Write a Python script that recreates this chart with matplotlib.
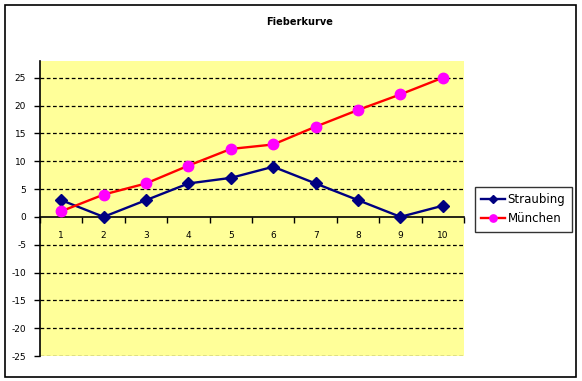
import matplotlib
matplotlib.use("Agg")
import matplotlib.pyplot as plt
from matplotlib.patches import Rectangle

# Daten
tage = [1, 2, 3, 4, 5, 6, 7, 8, 9, 10]
straubing = [3, 0, 3, 6, 7, 9, 6, 3, 0, 2]
muenchen = [1, 4, 6, 9.2, 12.2, 13, 16.2, 19.2, 22, 25]
y_ticks = [-25, -20, -15, -10, -5, 0, 5, 10, 15, 20, 25]

plt.rcParams['font.family'] = ['DejaVu Sans']

fig = plt.figure(figsize=(5.82, 3.81), dpi=100)
fig.patch.set_facecolor('white')
ax = fig.add_axes([40 / 582, 25 / 381, 424 / 582, 295 / 381])
ax.set_facecolor('#FFFF99')

# Rahmen um das ganze Diagramm
fig.patches.append(Rectangle((5 / 582, 4 / 381), 571 / 582, 372 / 381,
                             transform=fig.transFigure, fill=False,
                             edgecolor='black', linewidth=1.2))

ax.set_xlim(0.5, 10.5)
ax.set_ylim(-25, 28)

# Gitternetz
for v in y_ticks:
    if v != 0:
        ax.axhline(v, color='black', linestyle=(0, (3, 2)), linewidth=0.9, zorder=1)

ax.plot(tage, straubing, color='#000080', marker='D', markersize=6,
        linewidth=1.7, label='Straubing', zorder=3)
ax.plot(tage, muenchen, color='#FF0000', marker='o', markersize=7.5,
        markerfacecolor='#FF00FF', markeredgecolor='#FF00FF',
        linewidth=1.7, label='München', zorder=3)

for s in ['top', 'right']:
    ax.spines[s].set_visible(False)
ax.spines['bottom'].set_position(('data', 0))
ax.spines['bottom'].set_linewidth(1.2)
ax.spines['left'].set_linewidth(1.2)

ax.set_yticks(y_ticks)
ax.set_yticklabels([str(v) for v in y_ticks])
ax.tick_params(axis='y', direction='out', length=4, width=1, labelsize=6.5, pad=6)

ax.set_xticks([t - 0.5 for t in tage] + [10.5])
ax.set_xticklabels([])
ax.set_xticks(tage, minor=True)
ax.set_xticklabels([str(t) for t in tage], minor=True)
ax.tick_params(axis='x', which='major', direction='out', length=4, width=1)
ax.tick_params(axis='x', which='minor', length=0, labelsize=6.5, pad=10)

fig.text(300 / 582, 1 - 22 / 381, 'Fieberkurve', ha='center', va='center',
         fontsize=7, fontweight='bold')

leg = fig.legend(loc='upper left', bbox_to_anchor=(475 / 582, 1 - 187 / 381),
                 fontsize=8.5, frameon=True, fancybox=False, edgecolor='black',
                 borderpad=0.55, handlelength=2.0, handletextpad=0.2,
                 labelspacing=0.5, borderaxespad=0, markerscale=0.7)
leg.get_frame().set_linewidth(1)

plt.savefig('out.png', dpi=100)
plt.close()
